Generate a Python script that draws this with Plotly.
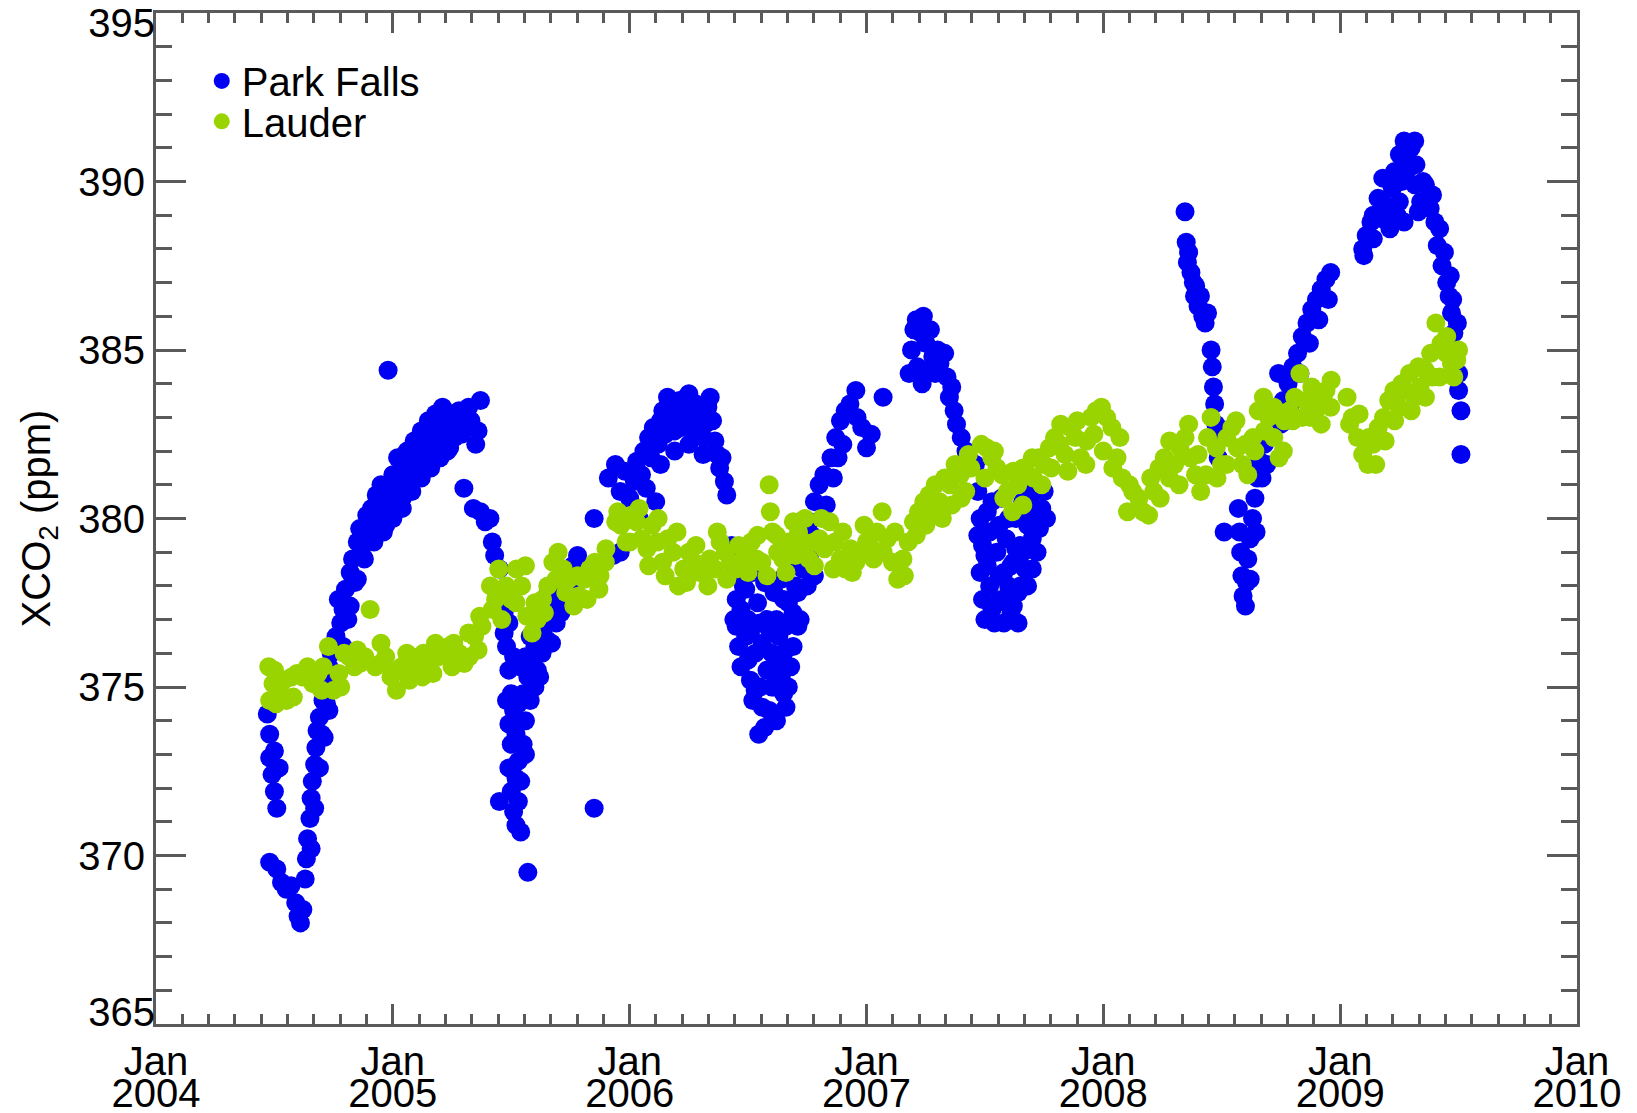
import plotly.graph_objects as go

# ---- data: (decimal year, XCO2 ppm) ----
park_falls = [
    # 2004 season
    (2004.47,374.2),(2004.48,373.6),(2004.48,372.9),(2004.49,372.4),(2004.50,373.1),(2004.50,371.9),
    (2004.51,371.4),(2004.52,372.6),(2004.48,369.8),(2004.51,369.6),(2004.53,369.2),(2004.55,369.0),
    (2004.57,369.1),(2004.59,368.6),(2004.60,368.2),(2004.61,368.0),(2004.62,368.4),(2004.63,369.3),
    (2004.635,369.9),(2004.64,370.5),(2004.65,371.1),(2004.655,371.7),(2004.66,372.2),(2004.67,372.7),
    (2004.675,373.2),(2004.68,373.7),(2004.69,374.1),(2004.70,373.6),(2004.705,374.6),(2004.71,375.0),
    (2004.72,374.5),(2004.73,375.6),(2004.74,376.0),(2004.75,375.3),(2004.76,376.5),(2004.77,377.6),
    (2004.78,376.9),(2004.79,377.3),(2004.80,377.9),(2004.81,377.0),(2004.82,378.4),(2004.83,378.8),
    (2004.84,378.1),(2004.85,379.3),(2004.86,379.7),(2004.87,378.9),(2004.88,379.6),(2004.89,380.1),
    (2004.90,379.4),(2004.91,380.3),(2004.92,379.9),(2004.93,380.7),(2004.94,380.0),(2004.95,381.0),
    (2004.96,380.4),(2004.97,379.8),(2004.98,384.4),(2004.99,380.8),(2005.00,381.3),(2005.01,380.5),
    (2005.02,381.8),(2005.03,381.1),(2005.04,380.6),(2005.05,381.6),(2005.06,382.0),(2005.07,381.3),
    (2005.08,381.8),(2005.09,382.3),(2005.10,381.5),(2005.11,382.0),(2005.12,382.6),(2005.13,381.9),
    (2005.14,382.4),(2005.15,382.9),(2005.16,382.1),(2005.17,382.6),(2005.18,383.1),(2005.19,382.3),
    (2005.20,382.8),(2005.21,383.3),(2005.22,382.5),(2005.23,382.0),(2005.24,382.8),(2005.25,383.1),
    (2005.26,382.4),(2005.28,383.2),(2005.29,382.5),(2005.30,383.0),(2005.31,382.7),(2005.32,383.3),
    (2005.33,382.9),(2005.35,382.2),(2005.37,383.5),(2005.36,382.6),
    (2004.655,370.2),(2004.67,371.4),(2004.69,372.6),(2004.71,373.5),(2004.73,374.3),(2004.76,375.2),
    (2004.79,376.2),(2004.82,377.4),(2004.85,378.2),(2004.88,378.8),(2004.92,379.3),(2004.96,379.6),
    (2005.00,380.0),(2005.04,380.3),(2005.08,380.8),(2005.12,381.2),(2005.16,381.5),(2005.20,381.8),
    (2005.24,382.1),
    (2005.30,380.9),(2005.34,380.3),(2005.37,380.2),(2005.39,379.9),(2005.41,380.0),(2005.42,379.3),
    (2005.43,378.9),(2005.45,378.5),
    # 2005 season
    (2005.44,377.8),(2005.45,371.6),(2005.47,377.2),(2005.48,376.2),(2005.49,375.5),(2005.48,374.6),
    (2005.49,373.9),(2005.50,373.3),(2005.49,372.6),(2005.50,371.9),(2005.51,371.3),(2005.52,370.9),
    (2005.53,371.6),(2005.54,370.7),(2005.57,369.5),(2005.51,374.3),(2005.52,373.6),(2005.53,372.8),
    (2005.54,372.2),(2005.55,373.3),(2005.56,374.0),(2005.55,374.8),(2005.57,375.3),(2005.58,374.6),
    (2005.59,375.8),(2005.60,376.2),(2005.61,375.5),(2005.62,376.6),(2005.63,376.0),(2005.64,376.8),
    (2005.65,376.4),(2005.66,377.1),(2005.68,377.4),(2005.69,376.9),(2005.70,377.7),(2005.72,378.0),
    (2005.73,377.6),(2005.74,378.3),(2005.76,378.6),(2005.78,378.9),(2005.85,380.0),(2005.85,371.4),
    (2005.47,376.6),(2005.49,376.9),(2005.50,374.8),(2005.51,375.9),(2005.52,372.3),(2005.53,374.5),
    (2005.54,375.6),(2005.56,373.0),(2005.56,375.9),(2005.58,376.5),(2005.60,375.0),(2005.62,375.3),
    (2005.63,377.2),(2005.65,377.7),(2005.67,376.3),(2005.69,378.0),(2005.71,377.2),(2005.75,377.6),
    (2005.77,378.1),
    # 2006 rising
    (2005.93,378.9),(2005.96,379.0),(2005.91,381.2),(2005.94,381.6),(2005.96,380.8),(2005.98,381.4),
    (2006.00,380.6),(2006.02,381.1),(2006.03,381.7),(2006.05,381.3),(2006.06,382.0),(2006.08,382.4),
    (2006.09,381.8),(2006.10,382.7),(2006.11,380.5),(2006.12,382.2),(2006.13,382.9),(2006.14,383.2),
    (2006.15,382.5),(2006.16,383.6),(2006.17,382.9),(2006.18,383.3),(2006.19,382.6),(2006.20,383.0),
    (2006.21,383.5),(2006.22,382.7),(2006.23,383.2),(2006.24,383.6),(2006.25,383.7),(2006.26,383.1),
    (2006.27,382.6),(2006.28,383.4),(2006.29,382.9),(2006.30,383.2),(2006.31,382.4),(2006.32,382.8),
    (2006.33,383.3),(2006.34,383.6),(2006.35,382.9),(2006.36,382.3),(2006.37,381.9),(2006.38,381.5),
    (2006.39,381.8),(2006.40,381.1),(2006.41,380.7),
    (2006.04,380.0),(2006.07,380.9),(2006.13,381.6),(2006.19,382.0),(2006.25,382.2),(2006.31,381.9),
    # 2006 summer
    (2006.43,379.2),(2006.44,378.4),(2006.45,377.6),(2006.45,376.8),(2006.46,376.2),(2006.47,377.3),
    (2006.48,378.0),(2006.49,376.5),(2006.50,375.8),(2006.50,377.0),(2006.51,375.2),(2006.52,374.6),
    (2006.53,376.0),(2006.54,377.5),(2006.545,373.6),(2006.55,375.0),(2006.56,376.3),(2006.57,373.8),
    (2006.58,377.0),(2006.58,375.5),(2006.59,374.3),(2006.60,376.0),(2006.61,377.8),(2006.61,375.0),
    (2006.62,374.0),(2006.63,376.5),(2006.64,378.2),(2006.64,375.3),(2006.65,374.8),(2006.66,376.8),
    (2006.66,374.4),(2006.67,375.0),(2006.67,377.5),(2006.68,378.6),(2006.69,376.2),(2006.70,379.3),
    (2006.71,377.8),(2006.72,379.9),(2006.73,378.5),
    (2006.44,377.0),(2006.46,378.8),(2006.47,375.6),(2006.49,377.9),(2006.51,376.6),(2006.52,378.4),
    (2006.53,374.9),(2006.55,376.9),(2006.56,374.4),(2006.57,378.1),(2006.59,376.7),(2006.60,375.0),
    (2006.62,377.0),(2006.63,375.7),(2006.65,377.6),(2006.65,376.0),(2006.68,375.6),(2006.69,377.2),
    (2006.70,378.0),(2006.71,376.8),(2006.72,377.0),(2006.74,379.2),(2006.75,378.0),(2006.76,378.8),
    (2006.77,379.5),(2006.78,378.3),
    # 2007 rising
    (2006.76,379.9),(2006.78,380.5),(2006.80,381.0),(2006.82,381.3),(2006.83,380.4),(2006.85,381.8),
    (2006.86,381.2),(2006.87,382.4),(2006.88,381.8),(2006.89,382.9),(2006.90,382.2),(2006.91,383.2),
    (2006.93,383.4),(2006.955,383.8),(2006.96,383.0),(2006.98,382.7),(2007.00,382.1),(2007.02,382.5),
    (2007.07,383.6),
    # 2007 peak
    (2007.18,384.3),(2007.19,385.0),(2007.20,385.6),(2007.21,385.9),(2007.215,384.5),(2007.23,385.5),
    (2007.24,386.0),(2007.25,385.2),(2007.26,384.4),(2007.235,384.0),(2007.27,385.6),(2007.28,384.8),
    (2007.29,384.3),(2007.30,385.0),(2007.31,384.6),(2007.33,384.9),(2007.34,384.2),(2007.35,383.6),
    (2007.36,383.9),(2007.37,383.2),(2007.38,382.8),(2007.40,382.4),(2007.42,382.0),(2007.44,381.7),
    # 2007 summer
    (2007.46,381.6),(2007.47,380.8),(2007.47,379.5),(2007.48,378.4),(2007.49,377.6),(2007.50,378.9),
    (2007.50,377.0),(2007.51,380.2),(2007.52,378.0),(2007.53,377.3),(2007.54,376.9),(2007.55,379.0),
    (2007.56,378.3),(2007.57,377.6),(2007.58,376.9),(2007.59,379.4),(2007.60,378.0),(2007.61,377.2),
    (2007.62,378.7),(2007.63,380.0),(2007.64,377.8),(2007.65,379.2),(2007.66,380.5),(2007.67,378.5),
    (2007.68,379.8),(2007.69,380.6),(2007.70,379.4),(2007.71,380.9),(2007.72,380.0),(2007.74,380.3),
    (2007.48,380.0),(2007.49,379.2),(2007.51,378.6),(2007.52,379.6),(2007.53,380.5),(2007.55,377.5),
    (2007.56,379.8),(2007.57,380.6),(2007.58,378.4),(2007.59,377.5),(2007.60,380.0),(2007.61,378.6),
    (2007.62,377.4),(2007.63,379.1),(2007.64,376.9),(2007.65,378.0),(2007.66,379.0),(2007.67,380.3),
    (2007.68,378.0),(2007.70,378.5),(2007.72,379.0),(2007.73,379.7),(2007.75,380.8),(2007.76,380.0),
    # 2008
    (2008.345,389.1),(2008.35,388.2),(2008.355,387.6),(2008.36,387.9),(2008.37,387.3),(2008.38,387.0),
    (2008.385,386.6),(2008.39,386.9),(2008.40,386.3),(2008.41,386.6),(2008.42,386.0),(2008.43,385.8),
    (2008.44,386.1),(2008.455,385.0),(2008.46,384.5),(2008.465,383.9),(2008.47,383.4),(2008.475,382.8),
    (2008.48,382.3),(2008.485,381.8),(2008.51,379.6),
    (2008.57,380.3),(2008.575,379.6),(2008.58,379.0),(2008.585,378.3),(2008.59,377.7),(2008.60,377.4),
    (2008.605,378.1),(2008.61,378.8),(2008.62,379.4),(2008.62,378.2),(2008.63,380.0),(2008.64,380.6),
    (2008.645,379.6),(2008.65,381.2),(2008.66,381.7),(2008.67,381.2),(2008.68,382.2),(2008.69,381.6),
    (2008.70,382.6),(2008.72,383.0),(2008.74,384.3),(2008.75,382.8),(2008.76,383.5),(2008.78,384.0),
    (2008.79,383.4),(2008.80,384.5),(2008.82,384.9),(2008.83,384.3),(2008.84,385.4),(2008.86,385.8),
    (2008.87,385.2),(2008.88,386.2),(2008.90,386.5),(2008.91,385.9),(2008.92,386.8),(2008.94,387.1),
    (2008.95,386.5),(2008.96,387.3),
    # 2009
    (2009.095,388.0),(2009.10,387.8),(2009.11,388.4),(2009.13,388.8),(2009.14,389.0),(2009.14,388.3),
    (2009.16,389.5),(2009.17,388.9),(2009.18,390.1),(2009.19,389.3),(2009.21,388.6),(2009.22,389.8),
    (2009.23,390.3),(2009.24,389.0),(2009.25,390.8),(2009.25,389.4),(2009.26,390.0),(2009.27,391.2),
    (2009.27,388.8),(2009.28,390.6),(2009.29,390.4),(2009.30,391.0),(2009.315,391.2),(2009.315,389.9),
    (2009.32,390.5),(2009.33,389.1),(2009.34,389.4),(2009.35,390.0),(2009.36,389.9),(2009.37,389.5),
    (2009.38,389.2),(2009.39,389.6),(2009.40,388.8),(2009.41,388.1),(2009.42,388.6),(2009.43,387.5),
    (2009.44,387.9),(2009.45,387.0),(2009.46,386.6),(2009.465,387.2),(2009.47,386.1),(2009.475,386.5),
    (2009.48,385.5),(2009.49,385.0),(2009.495,385.8),(2009.50,384.3),(2009.50,383.8),(2009.51,383.2),
    (2009.51,381.9),
]

lauder = [
    # 2004-2005
    (2004.476,375.6),(2004.494,375.1),(2004.507,374.5),(2004.529,374.8),(2004.551,374.6),(2004.573,375.3),
    (2004.595,375.4),(2004.618,375.3),(2004.662,375.1),(2004.684,375.4),(2004.706,375.6),(2004.728,376.2),
    (2004.750,374.9),(2004.772,375.4),(2004.794,376.0),(2004.816,375.9),(2004.838,375.6),(2004.860,375.7),
    (2004.882,375.9),(2004.904,377.3),(2004.926,375.6),(2004.948,375.7),(2004.970,375.9),(2004.992,375.3),
    (2005.015,374.9),(2005.037,375.6),(2005.059,376.0),(2005.081,375.9),(2005.103,375.6),(2005.125,375.3),
    (2005.147,375.9),(2005.169,375.4),(2005.191,375.9),(2005.213,376.0),(2005.235,376.2),(2005.257,376.3),
    (2005.279,376.0),(2005.301,375.7),(2005.323,375.9),(2005.345,376.5),(2005.367,377.1),(2005.376,376.8),
    (2004.48,374.6),(2004.50,375.5),(2004.54,375.2),(2004.58,374.7),(2004.64,375.6),(2004.70,374.9),
    (2004.78,375.0),(2004.85,376.1),(2004.95,376.3),(2005.02,375.5),(2005.07,375.2),(2005.13,376.0),
    (2005.18,376.3),(2005.25,375.6),(2005.32,376.6),(2005.36,376.1),
    # 2005
    (2005.412,378.0),(2005.434,377.6),(2005.447,378.5),(2005.478,378.0),(2005.500,377.6),(2005.522,378.5),
    (2005.544,378.0),(2005.566,377.1),(2005.588,376.6),(2005.610,377.0),(2005.632,377.6),(2005.654,378.0),
    (2005.676,378.7),(2005.698,379.0),(2005.720,378.5),(2005.742,378.2),(2005.764,377.4),(2005.786,377.7),
    (2005.809,378.2),(2005.831,378.5),(2005.853,378.7),(2005.875,378.3),(2005.897,378.7),
    (2005.42,377.3),(2005.46,377.0),(2005.52,377.5),(2005.56,378.6),(2005.60,377.5),(2005.64,377.2),
    (2005.69,378.2),(2005.73,377.8),(2005.78,378.3),(2005.82,377.6),(2005.87,377.9),(2005.90,379.1),
    # 2006-2007
    (2005.941,379.9),(2005.963,379.8),(2005.985,379.3),(2006.007,380.1),(2006.029,379.9),(2006.051,379.4),
    (2006.073,379.1),(2006.095,379.8),(2006.117,379.3),(2006.139,378.7),(2006.161,379.4),(2006.183,379.0),
    (2006.206,378.0),(2006.228,378.5),(2006.250,379.0),(2006.272,378.7),(2006.294,378.4),(2006.316,378.5),
    (2006.338,378.8),(2006.360,378.5),(2006.382,379.3),(2006.404,379.0),(2006.426,378.7),(2006.448,378.5),
    (2006.470,378.7),(2006.492,379.0),(2006.514,379.3),(2006.536,378.8),(2006.558,378.7),(2006.589,381.0),
    (2006.594,380.2),(2006.603,379.6),(2006.625,379.0),(2006.647,378.8),(2006.669,379.3),(2006.691,379.9),
    (2006.713,379.6),(2006.735,379.3),(2006.757,378.8),(2006.779,379.3),(2006.801,379.4),(2006.823,379.1),
    (2006.845,379.9),(2006.867,379.3),(2006.889,378.8),(2006.911,378.5),(2006.933,379.1),(2006.955,378.7),
    (2006.978,379.0),(2007.000,379.3),(2007.022,379.1),(2007.044,379.6),(2007.066,380.2),(2007.088,379.4),
    (2007.110,378.7),(2007.132,378.2),(2007.154,378.8),(2007.176,379.3),(2007.198,379.9),(2007.220,380.2),
    (2007.242,380.5),(2007.264,380.7),(2007.286,380.2),(2007.308,380.5),(2007.330,381.2),(2007.352,381.0),
    (2007.374,381.6),(2007.397,381.3),(2007.419,380.8),(2007.441,381.5),
    (2005.95,380.2),(2006.00,379.3),(2006.04,380.3),(2006.08,378.6),(2006.12,380.0),(2006.15,378.3),
    (2006.20,379.6),(2006.24,378.1),(2006.28,379.2),(2006.33,378.0),(2006.37,379.6),(2006.41,378.2),
    (2006.46,379.2),(2006.50,378.4),(2006.54,379.5),(2006.58,378.3),(2006.62,379.5),(2006.66,378.4),
    (2006.70,378.9),(2006.74,380.0),(2006.78,378.6),(2006.81,380.0),(2006.86,378.5),(2006.90,379.6),
    (2006.94,378.4),(2006.99,379.8),(2007.03,378.8),(2007.07,379.0),(2007.12,379.6),(2007.16,378.3),
    (2007.21,379.5),(2007.25,379.8),(2007.29,381.0),(2007.32,380.0),(2007.36,380.4),(2007.40,380.6),
    (2007.43,381.9),
    # 2007-2008
    (2007.485,382.2),(2007.507,382.1),(2007.529,381.8),(2007.551,381.5),(2007.573,381.3),(2007.595,380.8),
    (2007.617,380.2),(2007.639,381.0),(2007.661,381.5),(2007.683,381.3),(2007.705,381.2),(2007.727,381.8),
    (2007.749,381.6),(2007.772,382.1),(2007.794,382.4),(2007.816,382.2),(2007.838,381.9),(2007.860,382.7),
    (2007.882,382.4),(2007.904,381.8),(2007.926,381.6),(2007.948,383.0),(2007.970,383.2),(2007.992,383.3),
    (2008.014,383.0),(2008.036,382.7),(2008.058,381.8),(2008.080,381.2),(2008.102,380.2),(2008.124,380.8),
    (2008.168,380.2),(2008.191,380.1),(2008.213,380.8),(2008.235,381.5),(2008.257,381.8),(2008.279,381.2),
    (2008.301,381.6),(2008.323,382.1),(2008.345,382.4),(2008.367,381.8),(2008.389,381.3),(2008.411,380.8),
    (2008.433,381.3),(2008.455,383.0),(2008.477,382.1),(2008.499,381.6),(2008.521,382.4),(2008.543,382.7),
    (2008.565,382.1),(2008.587,381.6),(2008.610,381.3),(2008.632,382.4),(2008.654,383.2),(2008.676,383.6),
    (2008.698,383.0),(2008.720,382.4),(2008.742,381.8),(2008.764,382.9),(2008.786,383.2),(2008.808,383.6),
    (2008.830,384.3),(2008.852,383.5),(2008.874,383.0),(2008.896,383.2),(2008.918,383.5),(2008.940,383.8),
    (2008.962,384.1),
    (2007.50,381.2),(2007.54,382.0),(2007.58,380.6),(2007.62,381.4),(2007.66,380.4),(2007.70,381.8),
    (2007.74,381.0),(2007.78,381.5),(2007.82,382.8),(2007.85,381.4),(2007.89,382.9),(2007.93,382.3),
    (2007.96,382.5),(2008.00,382.0),(2008.04,381.5),(2008.07,382.4),(2008.11,381.0),(2008.15,380.6),
    (2008.20,381.2),(2008.24,380.6),(2008.28,382.3),(2008.32,381.0),(2008.36,382.8),(2008.40,381.9),
    (2008.44,382.4),(2008.48,381.2),(2008.52,381.6),(2008.56,382.9),(2008.60,382.2),(2008.64,382.0),
    (2008.68,382.6),(2008.72,383.3),(2008.76,382.0),(2008.80,382.9),(2008.84,383.0),(2008.88,383.9),
    (2008.92,382.8),(2008.96,383.3),
    # 2009
    (2009.029,383.6),(2009.051,383.0),(2009.073,382.4),(2009.095,381.9),(2009.117,381.6),(2009.139,382.2),
    (2009.161,382.7),(2009.183,383.0),(2009.205,383.5),(2009.227,383.8),(2009.249,383.3),(2009.271,383.8),
    (2009.293,384.3),(2009.315,383.6),(2009.337,383.9),(2009.359,384.4),(2009.382,384.9),(2009.404,385.8),
    (2009.426,385.2),(2009.448,384.9),(2009.470,384.6),(2009.492,384.7),
    (2009.04,382.8),(2009.08,383.1),(2009.12,382.4),(2009.15,381.6),(2009.19,382.3),(2009.23,382.9),
    (2009.26,384.0),(2009.30,383.2),(2009.33,384.5),(2009.36,383.6),(2009.39,384.2),(2009.42,384.2),
    (2009.45,385.4),(2009.48,384.2),(2009.50,385.0),
]

year_ticks = [2004, 2005, 2006, 2007, 2008, 2009, 2010]
month_labels = ["Jan"] * len(year_ticks)
year_labels = [str(y) for y in year_ticks]
ppm_inner_ticks = [370, 375, 380, 385, 390]
ppm_top_tick = [395]
ppm_bottom_tick = [365]

FONT = "Liberation Sans, Arial, Helvetica, sans-serif"
BLUE = "#0000F2"
GREEN = "#99D400"
AXIS = "#5a5a5a"
YRANGE = [365, 395]
XRANGE = [2004, 2010]

pf_x = [p[0] for p in park_falls]
pf_y = [p[1] for p in park_falls]
la_x = [p[0] for p in lauder]
la_y = [p[1] for p in lauder]

fig = go.Figure()
fig.add_trace(go.Scatter(x=pf_x, y=pf_y, mode="markers", name="Park Falls", legend="legend",
                         marker=dict(color=BLUE, size=19, line=dict(width=0))))
fig.add_trace(go.Scatter(x=la_x, y=la_y, mode="markers", name="Lauder", legend="legend2",
                         marker=dict(color=GREEN, size=19, line=dict(width=0))))
# empty traces that activate the extra label-only axes
fig.add_trace(go.Scatter(x=[], y=[], xaxis="x2", showlegend=False, hoverinfo="skip"))
fig.add_trace(go.Scatter(x=[], y=[], yaxis="y3", showlegend=False, hoverinfo="skip"))
fig.add_trace(go.Scatter(x=[], y=[], yaxis="y4", showlegend=False, hoverinfo="skip"))

tick_common = dict(ticks="inside", tickcolor=AXIS, tickwidth=3, showline=True,
                   linecolor=AXIS, linewidth=3, mirror="ticks", showgrid=False,
                   zeroline=False, automargin=False)
label_only = dict(ticks="", showline=False, showgrid=False, zeroline=False,
                  automargin=False, ticklabeloverflow="allow")

legend_common = dict(xanchor="left", yanchor="top", bgcolor="rgba(0,0,0,0)",
                     font=dict(size=40, family=FONT), itemsizing="trace")

fig.update_layout(
    width=1637, height=1113,
    margin=dict(l=156, r=60, t=13, b=89),
    paper_bgcolor="white", plot_bgcolor="white",
    font=dict(family=FONT, color="black"),
    showlegend=True,
    legend=dict(x=0.0322, y=0.965, **legend_common),
    legend2=dict(x=0.0322, y=0.925, **legend_common),
    xaxis=dict(range=XRANGE, tickmode="array", tickvals=year_ticks,
               ticktext=month_labels, ticklen=20,
               tickfont=dict(size=40, family=FONT),
               minor=dict(tick0=2004, dtick=1/9, ticklen=10, tickwidth=3,
                          tickcolor=AXIS, ticks="inside"),
               **tick_common),
    xaxis2=dict(range=XRANGE, overlaying="x", side="bottom", anchor="y",
                tickmode="array", tickvals=year_ticks, ticktext=year_labels,
                ticklabelstandoff=42, tickfont=dict(size=40, family=FONT),
                **label_only),
    yaxis=dict(range=YRANGE, tickmode="array", tickvals=ppm_inner_ticks + ppm_top_tick + ppm_bottom_tick,
               ticktext=[str(v) for v in ppm_inner_ticks] + ["", ""], ticklen=30,
               tickfont=dict(size=40, family=FONT), ticklabelstandoff=0,
               minor=dict(dtick=1, tick0=365, ticklen=16, tickwidth=3, tickcolor=AXIS,
                          ticks="inside"),
               title=dict(text="XCO<sub>2</sub> (ppm)", font=dict(size=40, family=FONT),
                          standoff=16),
               **tick_common),
    yaxis3=dict(range=YRANGE, overlaying="y", side="left", anchor="x",
                tickmode="array", tickvals=ppm_top_tick,
                ticktext=[str(v) for v in ppm_top_tick],
                ticklabelshift=10, ticklabelstandoff=0,
                tickfont=dict(size=40, family=FONT), **label_only),
    yaxis4=dict(range=YRANGE, overlaying="y", side="left", anchor="x",
                tickmode="array", tickvals=ppm_bottom_tick,
                ticktext=[str(v) for v in ppm_bottom_tick],
                ticklabelshift=-12, ticklabelstandoff=0,
                tickfont=dict(size=40, family=FONT), **label_only),
)

fig.write_html("out.html", config={"displayModeBar": False},
               post_script="document.body.style.margin='0px';")
